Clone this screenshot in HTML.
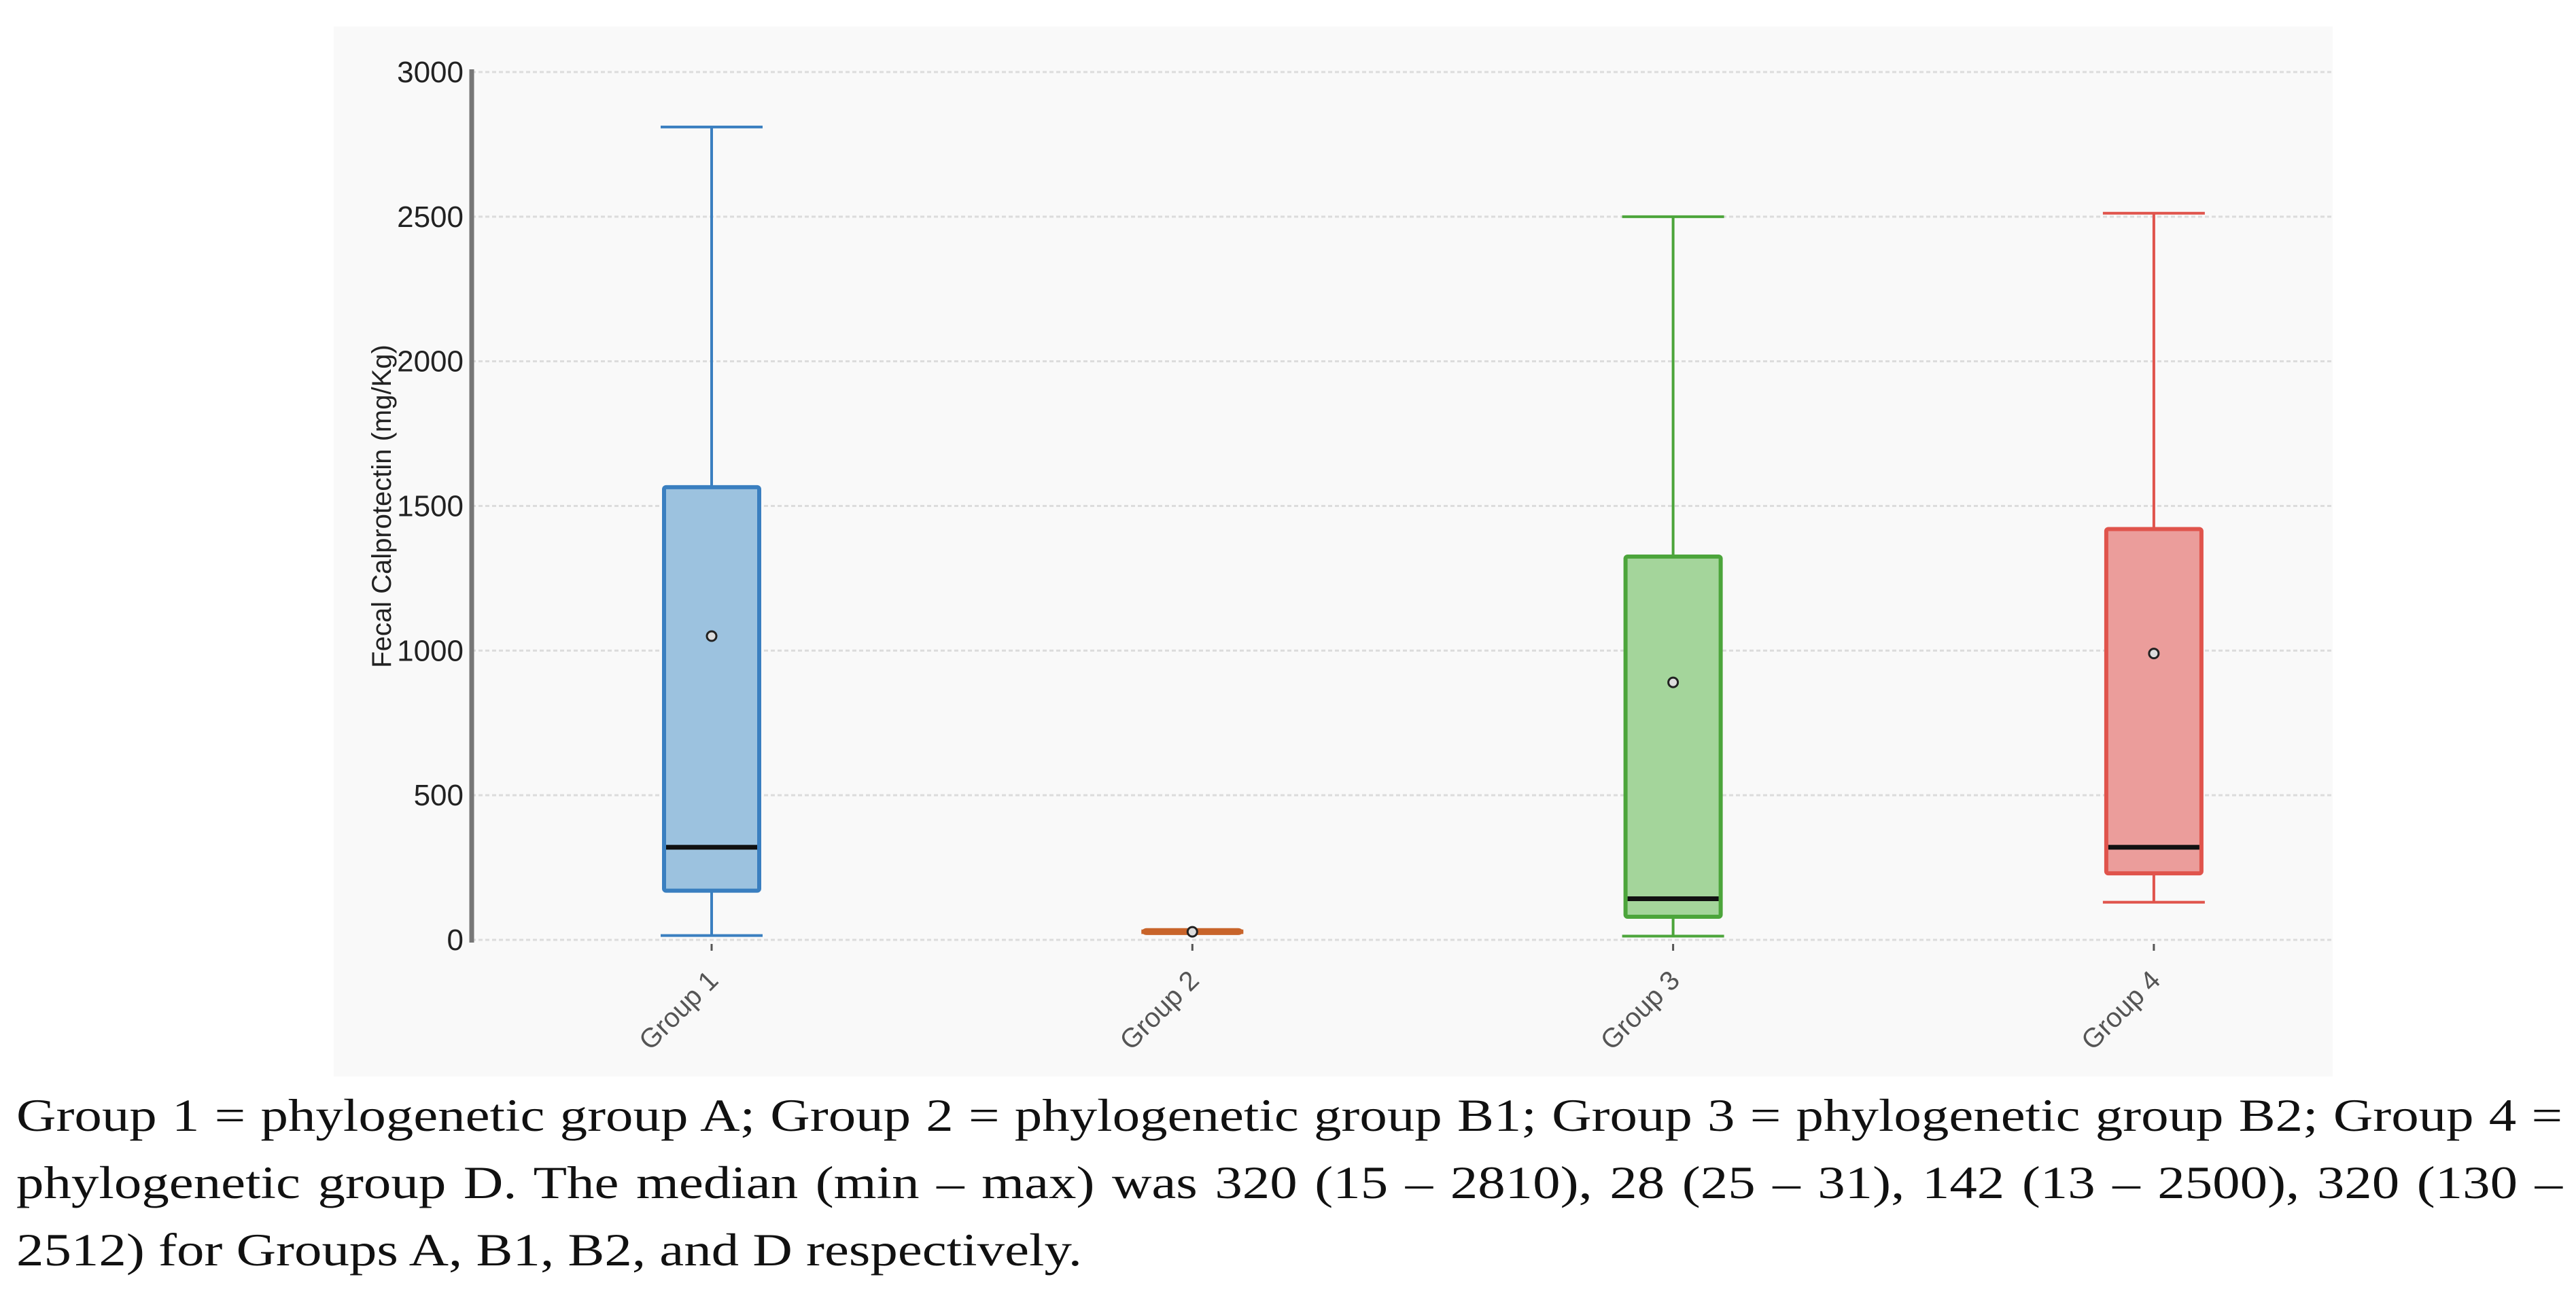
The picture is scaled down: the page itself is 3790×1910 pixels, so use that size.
<!DOCTYPE html>
<html><head><meta charset="utf-8">
<style>
html,body{margin:0;padding:0;background:#fff;}
body{width:3790px;height:1910px;position:relative;overflow:hidden;}
#chart{position:absolute;left:0;top:0;}
#caption{position:absolute;left:24px;top:1592px;width:3148px;transform:scaleX(1.19);transform-origin:0 0;font-family:"Liberation Serif",serif;font-size:68px;line-height:99px;color:#111;}
#caption div{white-space:nowrap;}
#caption .j{text-align:justify;text-align-last:justify;white-space:normal;}
</style></head>
<body>
<svg id="chart" width="3790" height="1590" xmlns="http://www.w3.org/2000/svg">
<rect x="491" y="39" width="2941" height="1545" fill="#f9f9f9"/>
<g id="grid"></g>
<g id="yaxis"></g>
<g id="boxes"></g>
<g id="xaxis"></g>
</svg>
<div id="caption">
<div class="j">Group 1 = phylogenetic group A; Group 2 = phylogenetic group B1; Group 3 = phylogenetic group B2; Group 4 =</div>
<div class="j">phylogenetic group D. The median (min – max) was 320 (15 – 2810), 28 (25 – 31), 142 (13 – 2500), 320 (130 –</div>
<div>2512) for Groups A, B1, B2, and D respectively.</div>
</div>
<script>
const categories=["Group 1","Group 2","Group 3","Group 4"];
const mins=[15,25,13,130];
const q1s=[170,26,80,230];
const medians=[320,28,142,320];
const q3s=[1565,31,1325,1420];
const maxs=[2810,31,2500,2512];
const means=[1050,28,890,990];
const yTicks=[0,500,1000,1500,2000,2500,3000];
const strokes=["#3a7fc0","#c8642a","#4ca53b","#e0544c"];
const fills=["#9cc2df","#e8a070","#a4d59b","#eb9d9b"];

const NS="http://www.w3.org/2000/svg";
const y0=1383,y1=106,yMax=3000;
function yScale(v){return y0-(v/yMax)*(y0-y1);}
const xStart=1047,xStep=707.3;
function xScale(i){return xStart+i*xStep;}
function mk(tag,attrs,parent){const e=document.createElementNS(NS,tag);for(const k in attrs)e.setAttribute(k,attrs[k]);parent.appendChild(e);return e;}

const grid=document.getElementById('grid'),yax=document.getElementById('yaxis'),bx=document.getElementById('boxes'),xax=document.getElementById('xaxis');
yTicks.forEach(t=>{
  const y=yScale(t);
  const g=mk('line',{x1:694,x2:3432,y1:y,y2:y,stroke:'#dcdcdc','stroke-width':3,'stroke-dasharray':'6,4'},grid);
  
  
  const tx=mk('text',{x:682,y:y+15,'text-anchor':'end','font-family':'Liberation Sans, sans-serif','font-size':44,fill:'#222'},yax);
  tx.textContent=t;
  
  
});
const ax=mk('line',{x1:694,x2:694,y1:y1-4,y2:y0+4,stroke:'#777','stroke-width':7},yax);


const yt=mk('text',{x:0,y:0,'text-anchor':'middle','font-family':'Liberation Sans, sans-serif','font-size':40,fill:'#222',transform:'translate(575,745) rotate(-90)'},yax);
yt.textContent='Fecal Calprotectin (mg/Kg)';



categories.forEach((c,i)=>{
  const cx=xScale(i),bw=140,cw=150;
  const g=mk('g',{},bx);
  
  
  const sw=4;
  mk('line',{x1:cx,x2:cx,y1:yScale(maxs[i]),y2:yScale(q3s[i]),stroke:strokes[i],'stroke-width':sw},g);
  mk('line',{x1:cx,x2:cx,y1:yScale(q1s[i]),y2:yScale(mins[i]),stroke:strokes[i],'stroke-width':sw},g);
  mk('line',{x1:cx-cw/2,x2:cx+cw/2,y1:yScale(maxs[i]),y2:yScale(maxs[i]),stroke:strokes[i],'stroke-width':sw},g);
  mk('line',{x1:cx-cw/2,x2:cx+cw/2,y1:yScale(mins[i]),y2:yScale(mins[i]),stroke:strokes[i],'stroke-width':sw},g);
  const h=Math.max(yScale(q1s[i])-yScale(q3s[i]),2);
  const r=mk('rect',{x:cx-bw/2,y:yScale(q3s[i]),width:bw,height:h,fill:fills[i],stroke:strokes[i],'stroke-width':i==1?8:6,rx:3},g);
  
  
  const md=mk('line',{x1:cx-bw/2+3,x2:cx+bw/2-3,y1:yScale(medians[i]),y2:yScale(medians[i]),stroke:i==1?strokes[i]:'#111','stroke-width':7},g);
  
  
  const m=mk('circle',{cx:cx,cy:yScale(means[i]),r:7,fill:'#ddd',stroke:'#222','stroke-width':3},g);
  
  
  const tk=mk('line',{x1:cx,x2:cx,y1:y0+6,y2:y0+16,stroke:'#555','stroke-width':3},xax);
  
  
  const lb=mk('text',{x:0,y:0,'text-anchor':'end','font-family':'Liberation Sans, sans-serif','font-size':40,fill:'#555',transform:'translate('+(cx+12)+','+(y0+62)+') rotate(-45)'},xax);
  lb.textContent=c;
  
  
});
</script>
</body></html>
